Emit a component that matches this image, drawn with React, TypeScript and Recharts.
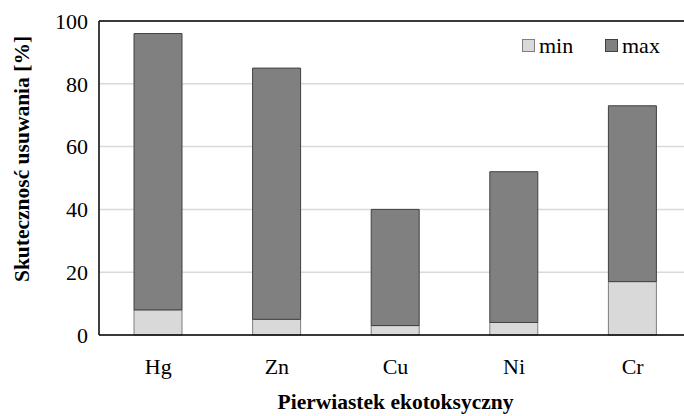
import React from 'react';
import { BarChart, Bar, XAxis, YAxis, CartesianGrid, ReferenceLine } from 'recharts';

const elements = ['Hg', 'Zn', 'Cu', 'Ni', 'Cr'];
const minValues = [8, 5, 3, 4, 17];
const maxValues = [96, 85, 40, 52, 73];
const yTicks = [0, 20, 40, 60, 80, 100];

// stacked: upper segment runs from min to max
const data = elements.map((name, i) => ({
  name,
  min: minValues[i],
  max: maxValues[i] - minValues[i],
}));

const FONT = 'Liberation Serif';

const legendItems = [
  { label: 'min', fill: '#d9d9d9', stroke: '#7f7f7f', x: 522 },
  { label: 'max', fill: '#808080', stroke: '#404040', x: 605 },
];

// legend drawn as an svg overlay so it uses the same text rendering as the chart
function LegendBox() {
  return (
    <svg width={684} height={80} style={{ position: 'absolute', left: 0, top: 0, pointerEvents: 'none' }}>
      {legendItems.map((it) => (
        <g key={it.label}>
          <rect x={it.x + 0.5} y={39.5} width={12} height={12} fill={it.fill} stroke={it.stroke} />
          <text x={it.x + 17} y={53} fontFamily={FONT} fontSize={22} fill="#000">
            {it.label}
          </text>
        </g>
      ))}
    </svg>
  );
}

export default function App() {
  return (
    <div style={{ position: 'fixed', left: 0, top: 0, width: 684, height: 416, overflow: 'hidden', background: '#fff' }}>
      <BarChart width={700} height={416} data={data} margin={{ top: 21, right: 8, left: 0, bottom: 0 }}>
        <CartesianGrid vertical={false} stroke="#d9d9d9" strokeWidth={1.5} />
        <XAxis
          dataKey="name"
          height={81}
          tickLine={false}
          axisLine={{ stroke: '#000', strokeWidth: 1.5 }}
          tick={{ fill: '#000', fontFamily: FONT, fontSize: 22 }}
          tickMargin={17}
          label={(props: any) => {
            const vb = props.viewBox;
            return (
              <text
                x={vb.x + vb.width / 2}
                y={409}
                textAnchor="middle"
                fontFamily={FONT}
                fontSize={21.5}
                fontWeight="bold"
                fill="#000"
              >
                Pierwiastek ekotoksyczny
              </text>
            );
          }}
        />
        <YAxis
          width={99}
          domain={[0, 100]}
          ticks={yTicks}
          tickLine={false}
          axisLine={{ stroke: '#000', strokeWidth: 1.5 }}
          tick={{ fill: '#000', fontFamily: FONT, fontSize: 22 }}
          tickMargin={5}
          label={() => (
            <text
              x={29}
              y={159}
              transform="rotate(-90 29 159)"
              textAnchor="middle"
              fontFamily={FONT}
              fontSize={21.5}
              fontWeight="bold"
              fill="#000"
            >
              Skutecznosć usuwania [%]
            </text>
          )}
        />
        <ReferenceLine y={100} stroke="#000" strokeWidth={1.5} />
        <Bar dataKey="min" stackId="a" barSize={48} fill="#d9d9d9" stroke="#7f7f7f" strokeWidth={1} isAnimationActive={false} />
        <Bar dataKey="max" stackId="a" barSize={48} fill="#808080" stroke="#404040" strokeWidth={1} isAnimationActive={false} />
      </BarChart>
      <LegendBox />
    </div>
  );
}
